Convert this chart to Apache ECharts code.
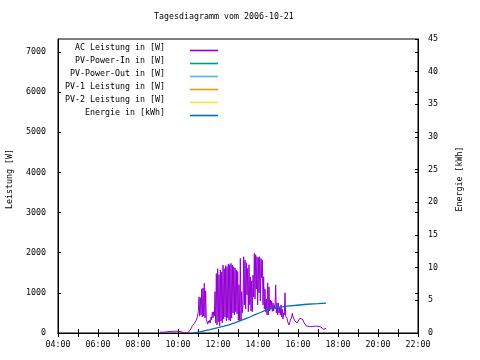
<!DOCTYPE html>
<html>
<head>
<meta charset="utf-8">
<script src="https://cdn.jsdelivr.net/npm/echarts@6/dist/echarts.min.js"></script>
<style>html,body{margin:0;padding:0;background:#fff}#c{width:480px;height:360px}</style>
</head>
<body>
<div id="c"></div>
<script>
// ---- data (time in minutes since midnight) ----
const titleText = 'Tagesdiagramm vom 2006-10-21';
const seriesNames = ['AC Leistung in [W]', 'PV-Power-In in [W]', 'PV-Power-Out in [W]', 'PV-1 Leistung in [W]', 'PV-2 Leistung in [W]', 'Energie in [kWh]'];
const seriesColors = ['#9400d3', '#009e73', '#56b4e9', '#e69f00', '#f0e442', '#0072b2'];
const leftTicks = [0, 1000, 2000, 3000, 4000, 5000, 6000, 7000];
const rightTicks = [0, 5, 10, 15, 20, 25, 30, 35, 40, 45];

const acData = [
  [546,20],[555,20],[564,25],[573,40],[579,30],[585,40],[591,30],[597,45],[603,30],[609,35],[615,10],[618,5],[624,0],
  [630,10],[634,40],[637,80],[640,130],[643,180],[646,215],[649,240],[652,280],[655,320],[658,400],[661,530],
  [663,900],[665,420],[667,880],[669,450],[671,1100],[673,400],[675,1120],[677,420],[679,1240],[681,380],[683,1050],
  [685,330],[687,280],[689,220],[691,300],[693,250],[695,320],[697,260],[699,400],[701,330],[703,520],[705,380],
  [707,530],[709,420],[711,1030],
  [713,250],[715,1480],[717,200],[719,1600],[721,280],[723,1450],[725,180],[727,1570],[729,300],[731,1520],[733,250],
  [735,1690],[737,350],[739,1600],[741,400],[743,1680],[745,300],[747,1650],[749,380],[751,1720],[753,320],[755,1700],
  [757,300],[759,1735],[761,370],[763,1690],[765,500],[767,1650],[769,450],[771,1620],[773,530],[775,1570],[777,480],
  [779,1530],[781,320],[783,1200],[785,300],[787,1860],[789,320],
  [791,1030],[793,500],[795,700],[797,1900],[799,700],[801,1820],[803,600],[805,1750],[807,950],[809,1610],[811,530],
  [813,1700],[815,700],[817,1400],[819,550],[821,1300],[823,530],[825,1440],[827,900],[829,1985],[831,850],[833,1950],
  [835,1100],[837,1900],[839,700],[841,1880],[843,1000],[845,1900],[847,800],[849,1850],[851,1370],[853,1820],[855,700],
  [857,1400],[859,600],[861,1100],[863,520],[865,850],[867,450],[869,1250],[871,450],[873,1150],[875,550],[877,820],
  [879,600],[881,800],[883,540],[885,750],[887,550],[889,700],[891,600],[893,1200],[895,500],[897,750],[899,450],
  [901,750],[903,500],[905,650],[907,450],[909,700],[911,400],[913,600],[915,350],[917,500],[919,450],[921,1000],
  [923,420],[925,450],[927,370],[929,280],[931,250],[933,200],[935,250],[937,320],[939,350],[941,400],[943,490],
  [945,400],[948,380],[951,300],[954,260],[957,250],[960,280],[963,290],[966,370],[969,400],[972,390],[975,330],
  [978,260],[981,220],[984,180],[987,165],[990,160],[995,160],[1000,175],[1003,160],[1008,160],[1012,170],[1015,160],
  [1020,165],[1025,155],[1029,150],[1032,120],[1035,90],[1038,100],[1041,110],[1044,115]
];
const pvInData = [];
const pvOutData = [];
const pv1Data = [];
const pv2Data = [];
const energyData = [
  [645,0],[663,0.15],[681,0.35],[696,0.5],[711,0.7],[726,0.9],[738,1.05],[753,1.25],[768,1.5],[786,1.85],
  [801,2.15],[816,2.45],[831,2.8],[846,3.1],[861,3.45],[876,3.7],[897,3.9],[927,4.1],[957,4.25],[987,4.4],
  [1020,4.5],[1044,4.58]
];

const FONT = 'DejaVu Sans Mono';
const FS = 8.3;
const chart = echarts.init(document.getElementById('c'), null, {renderer: 'canvas'});

function hhmm(v) {
  const h = Math.floor(v / 60), m = v % 60;
  return (h < 10 ? '0' : '') + h + ':' + (m < 10 ? '0' : '') + m;
}

const legendRows = [44, 57, 70, 83, 96, 109];
const legends = seriesNames.map((n, i) => ({
  data: [n],
  orient: 'vertical',
  align: 'right',
  right: 262,
  top: legendRows[i],
  padding: 0,
  itemWidth: 28,
  itemHeight: 8,
  icon: 'path://M0,0 M28,8 M0,5.7 L28,5.7 L28,7.3 L0,7.3 Z',
  selectedMode: false,
  formatter: name => name + '    ',
  textStyle: {fontFamily: FONT, fontSize: FS, color: '#000'}
}));

const allData = [acData, pvInData, pvOutData, pv1Data, pv2Data, energyData];

chart.setOption({
  animation: false,
  backgroundColor: '#fff',
  title: {
    text: titleText, left: 154, top: 13, padding: 0,
    textStyle: {fontFamily: FONT, fontSize: FS, fontWeight: 'normal', color: '#000'}
  },
  legend: legends,
  grid: {left: 58, right: 62, top: 39, bottom: 27, show: true, borderColor: '#000', borderWidth: 1,
    containLabel: false, outerBoundsMode: 'none'},
  xAxis: [
    {
      type: 'value', min: 240, max: 1320, interval: 60, position: 'bottom',
      axisLine: {show: true, lineStyle: {color: '#000', width: 1}},
      axisTick: {show: true, inside: true, length: 4, lineStyle: {color: '#000'}},
      axisLabel: {show: true, margin: 8, fontFamily: FONT, fontSize: FS, color: '#000',
        formatter: v => (v % 120 === 0 ? hhmm(v) : '')},
      splitLine: {show: false}
    },
    {
      type: 'value', min: 240, max: 1320, interval: 60, position: 'top',
      axisLine: {show: true, lineStyle: {color: '#000', width: 1}},
      axisTick: {show: true, inside: true, length: 4, lineStyle: {color: '#000'}},
      axisLabel: {show: false},
      splitLine: {show: false}
    }
  ],
  yAxis: [
    {
      type: 'value', min: leftTicks[0], max: 7324, interval: 1000, position: 'left',
      name: 'Leistung [W]', nameLocation: 'middle', nameRotate: 90, nameGap: 44,
      nameTextStyle: {fontFamily: FONT, fontSize: FS, color: '#000', padding: [0, 0, 0, 14]},
      axisLine: {show: true, lineStyle: {color: '#000', width: 1}},
      axisTick: {show: true, inside: true, length: 3, lineStyle: {color: '#000'}},
      axisLabel: {show: true, margin: 12, showMaxLabel: false, fontFamily: FONT, fontSize: FS, color: '#000',
        formatter: v => (leftTicks.indexOf(v) >= 0 ? String(v) : '')},
      splitLine: {show: false}
    },
    {
      type: 'value', min: rightTicks[0], max: rightTicks[rightTicks.length - 1], interval: 5, position: 'right',
      name: 'Energie [kWh]', nameLocation: 'middle', nameRotate: 90, nameGap: 38,
      nameTextStyle: {fontFamily: FONT, fontSize: FS, color: '#000', padding: [0, 0, 0, 14]},
      axisLine: {show: true, lineStyle: {color: '#000', width: 1}},
      axisTick: {show: true, inside: true, length: 3, lineStyle: {color: '#000'}},
      axisLabel: {show: true, margin: 10, fontFamily: FONT, fontSize: FS, color: '#000'},
      splitLine: {show: false}
    },
    {
      type: 'value', min: leftTicks[0], max: 7324, interval: 1000, position: 'right',
      axisLine: {show: false},
      axisTick: {show: true, inside: true, length: 3, lineStyle: {color: '#000'}},
      axisLabel: {show: false},
      splitLine: {show: false}
    }
  ],
  series: seriesNames.map((n, i) => ({
    name: n,
    type: 'line',
    xAxisIndex: 0,
    yAxisIndex: i === 5 ? 1 : 0,
    data: allData[i],
    showSymbol: false,
    symbol: 'none',
    color: seriesColors[i],
    lineStyle: {color: seriesColors[i], width: i === 5 ? 1.3 : 1},
    itemStyle: {color: seriesColors[i]},
    z: i === 5 ? 3 : 2
  }))
});
</script>
</body>
</html>
